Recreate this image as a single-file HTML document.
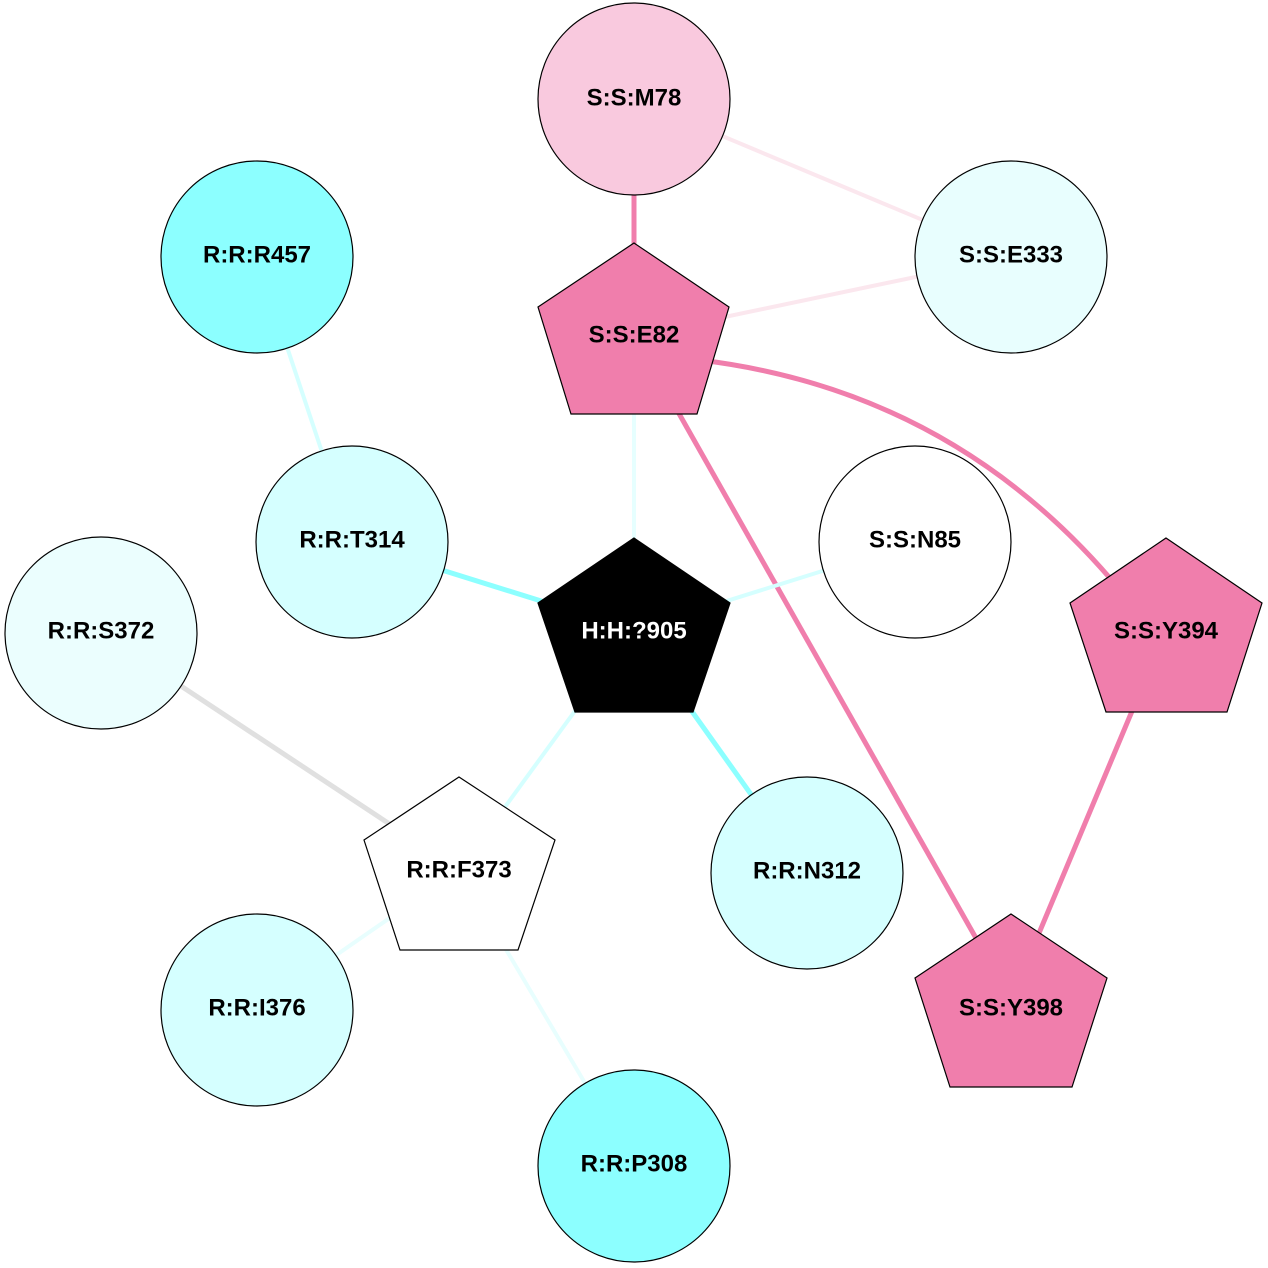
<!DOCTYPE html>
<html><head><meta charset="utf-8"><style>html,body{margin:0;padding:0;background:#fff}svg{display:block}text{font-family:"Liberation Sans",Arial,sans-serif;font-weight:bold;font-size:24px;text-anchor:middle;dominant-baseline:central}</style></head><body>
<svg width="1268" height="1268" viewBox="0 0 1268 1268" xmlns="http://www.w3.org/2000/svg">
<g fill="none" stroke-linecap="butt">
<line x1="634" y1="99" x2="1011" y2="257" stroke="#fbe7ee" stroke-width="4"/>
<line x1="634" y1="336" x2="1011" y2="257" stroke="#fbe7ee" stroke-width="4"/>
<line x1="634" y1="99" x2="634" y2="336" stroke="#f07eac" stroke-width="5"/>
<path d="M700 360 Q955 391 1120 590" stroke="#f07eac" stroke-width="5"/>
<line x1="660" y1="380" x2="1011" y2="1000" stroke="#f07eac" stroke-width="5"/>
<line x1="1166" y1="630" x2="1011" y2="1000" stroke="#f07eac" stroke-width="5"/>
<line x1="634" y1="336" x2="634" y2="630" stroke="#e6ffff" stroke-width="4"/>
<line x1="257" y1="257" x2="352" y2="542" stroke="#d5ffff" stroke-width="4"/>
<line x1="352" y1="542" x2="634" y2="630" stroke="#8cffff" stroke-width="5"/>
<line x1="915" y1="542" x2="634" y2="630" stroke="#d5ffff" stroke-width="4"/>
<line x1="634" y1="630" x2="807" y2="873" stroke="#8cffff" stroke-width="5"/>
<line x1="634" y1="630" x2="459" y2="870" stroke="#d5ffff" stroke-width="4"/>
<line x1="101" y1="633" x2="459" y2="870" stroke="#e0e0e0" stroke-width="5"/>
<line x1="459" y1="870" x2="257" y2="1010" stroke="#e8fefe" stroke-width="4"/>
<line x1="459" y1="870" x2="634" y2="1166" stroke="#e8fefe" stroke-width="4"/>
</g>
<g stroke="#000" stroke-width="1.2">
<circle cx="634" cy="99" r="96" fill="#f9c9de"/>
<circle cx="1011" cy="257" r="96" fill="#e8fefe"/>
<circle cx="257" cy="257" r="96" fill="#8cffff"/>
<polygon points="634,243 729,307 697,414 571,414 538,307" fill="#f07eac"/>
<circle cx="352" cy="542" r="96" fill="#d5ffff"/>
<circle cx="915" cy="542" r="96" fill="#ffffff"/>
<circle cx="101" cy="633" r="96" fill="#ebfefe"/>
<polygon points="634,538 730,603 693,712 575,712 538,603" fill="#000"/>
<polygon points="1166,538 1262,603 1227,712 1106,712 1070,603" fill="#f07eac"/>
<polygon points="459,777 555,840 518,950 400,950 364,840" fill="#fff"/>
<circle cx="807" cy="873" r="96" fill="#d5ffff"/>
<circle cx="257" cy="1010" r="96" fill="#d5ffff"/>
<polygon points="1011,914 1107,978 1072,1087 950,1087 915,978" fill="#f07eac"/>
<circle cx="634" cy="1166" r="96" fill="#8cffff"/>
</g>
<text x="634" y="98">S:S:M78</text>
<text x="1011" y="255">S:S:E333</text>
<text x="257" y="255">R:R:R457</text>
<text x="634" y="335">S:S:E82</text>
<text x="352" y="540">R:R:T314</text>
<text x="915" y="540">S:S:N85</text>
<text x="101" y="631">R:R:S372</text>
<text x="634" y="631" fill="#fff">H:H:?905</text>
<text x="1166" y="631">S:S:Y394</text>
<text x="459" y="870">R:R:F373</text>
<text x="807" y="871">R:R:N312</text>
<text x="257" y="1008">R:R:I376</text>
<text x="1011" y="1008">S:S:Y398</text>
<text x="634" y="1164">R:R:P308</text>
</svg>
</body></html>
